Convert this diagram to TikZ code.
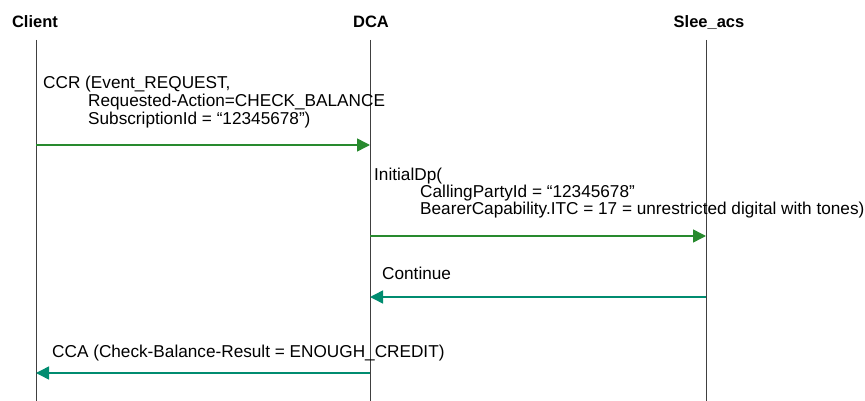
\documentclass[tikz,border=0pt]{standalone}
\usepackage{fontspec}
\setmainfont{Liberation Sans}
\usetikzlibrary{arrows.meta}
\definecolor{reqgreen}{RGB}{40,138,46}
\definecolor{respteal}{RGB}{0,140,112}
\begin{document}
\begin{tikzpicture}[x=1pt,y=-1pt,
  lifeline/.style={draw=black!75,line width=1pt},
  actor/.style={font=\fontsize{16.5}{16.5}\selectfont\bfseries,anchor=base,inner sep=0pt},
  msg/.style={font=\fontsize{17.2}{17.5}\selectfont,anchor=base west,inner sep=0pt},
  reqarrow/.style={draw=reqgreen,line width=1.5pt,-{Triangle[length=13pt,width=13pt]}},
  resparrow/.style={draw=respteal,line width=1.5pt,-{Triangle[length=13pt,width=13pt]}}]
\useasboundingbox (0,0) rectangle (865,401);
% actors
\node[actor] (client) at (35,28) {Client};
\node[actor] (dca) at (371,28) {DCA};
\node[actor] (slee) at (709,28) {Slee\_acs};
% lifeline ends
\coordinate (c0) at (36,40);   \coordinate (c1) at (36,401);
\coordinate (d0) at (370,40);  \coordinate (d1) at (370,401);
\coordinate (s0) at (706,40);  \coordinate (s1) at (706,401);
\draw[lifeline] (c0) -- (c1);
\draw[lifeline] (d0) -- (d1);
\draw[lifeline] (s0) -- (s1);
% message 1
\node[msg] (m1a) at (43,89) {CCR (Event\_REQUEST,};
\node[msg] (m1b) at (88,107) {Requested-Action=CHECK\_BALANCE};
\node[msg] (m1c) at (88,125) {SubscriptionId = “12345678”)};
\coordinate (a1s) at (36,145); \coordinate (a1e) at (370,145);
\draw[reqarrow] (a1s) -- (a1e);
% message 2
\node[msg] (m2a) at (374,180) {InitialDp(};
\node[msg] (m2b) at (420,197) {CallingPartyId = “12345678”};
\node[msg] (m2c) at (420,214) {BearerCapability.ITC = 17 = unrestricted digital with tones)};
\coordinate (a2s) at (370,236); \coordinate (a2e) at (706,236);
\draw[reqarrow] (a2s) -- (a2e);
% message 3
\node[msg] (m3) at (382,279) {Continue};
\coordinate (a3s) at (706,297); \coordinate (a3e) at (370,297);
\draw[resparrow] (a3s) -- (a3e);
% message 4
\node[msg] (m4) at (52,357) {CCA (Check-Balance-Result = ENOUGH\_CREDIT)};
\coordinate (a4s) at (370,373); \coordinate (a4e) at (36,373);
\draw[resparrow] (a4s) -- (a4e);
\end{tikzpicture}
\end{document}
